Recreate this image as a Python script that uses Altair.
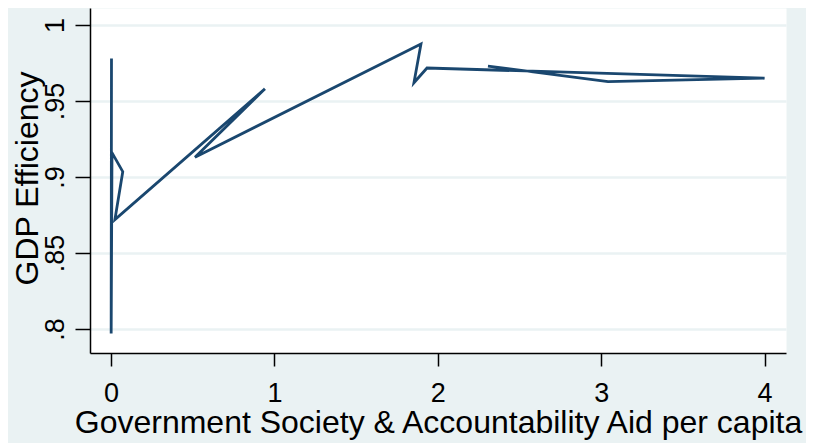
import altair as alt
import pandas as pd

# Data (in plotting order; Stata connects points in data order)
aid = [0.003, 0.001, 0.006, 0.072, 0.024, 0.942, 0.514, 1.897, 1.854, 1.934, 4.0, 3.042, 2.307]
eff = [0.978, 0.797, 0.916, 0.9035, 0.872, 0.958, 0.913, 0.9875, 0.962, 0.9717, 0.965, 0.9627, 0.973]
seq = list(range(len(aid)))

x_ticks = [0, 1, 2, 3, 4]
y_ticks = [0.8, 0.85, 0.9, 0.95, 1.0]

df = pd.DataFrame({"aid": aid, "eff": eff, "seq": seq})

FONT = "Liberation Sans"
BG = "#eaf2f3"

chart = alt.Chart(df).mark_line(
    color="#1a476f", strokeWidth=2.8, clip=True, strokeJoin="miter"
).encode(
    x=alt.X(
        "aid:Q",
        scale=alt.Scale(domain=[-0.1285, 4.131], nice=False, zero=False),
        axis=alt.Axis(
            values=x_ticks,
            title="Government Society & Accountability Aid per capita",
            grid=False,
            domainColor="black", domainWidth=1.5,
            tickColor="black", tickWidth=1.5, tickSize=13,
            labelFont=FONT, labelFontSize=27, labelColor="black",
            labelBaseline="alphabetic", labelPadding=35,
            labelFlush=False, labelOverlap=False,
            titleFont=FONT, titleFontSize=32, titleFontWeight="normal", titleColor="black",
            titleBaseline="alphabetic", titleY=79,
        ),
    ),
    y=alt.Y(
        "eff:Q",
        scale=alt.Scale(domain=[0.78421, 1.01118], nice=False, zero=False),
        axis=alt.Axis(
            values=y_ticks,
            labelExpr="datum.value >= 0.999 ? '1' : substring(format(datum.value, '.2~f'), 1)",
            title="GDP Efficiency",
            grid=True, gridColor=BG, gridWidth=2.5,
            domainColor="black", domainWidth=1.5,
            tickColor="black", tickWidth=1.5, tickSize=15,
            labelFont=FONT, labelFontSize=27, labelColor="black",
            labelAngle=270, labelAlign="center", labelBaseline="alphabetic",
            labelPadding=12, labelFlush=False, labelOverlap=False,
            titleFont=FONT, titleFontSize=32, titleFontWeight="normal", titleColor="black",
            titleAngle=270, titleAlign="center", titleBaseline="alphabetic",
            titleX=-53, titleY=170,
        ),
    ),
    order=alt.Order("seq:Q"),
).properties(
    width=696,
    height=345,
    background=BG,
    padding={"left": 82, "top": 0, "right": 20, "bottom": 90},
    autosize=alt.AutoSizeParams(type="none"),
).configure_view(fill="white", stroke="transparent")

chart.save("out.html", embed_options={"renderer": "svg", "actions": False})
